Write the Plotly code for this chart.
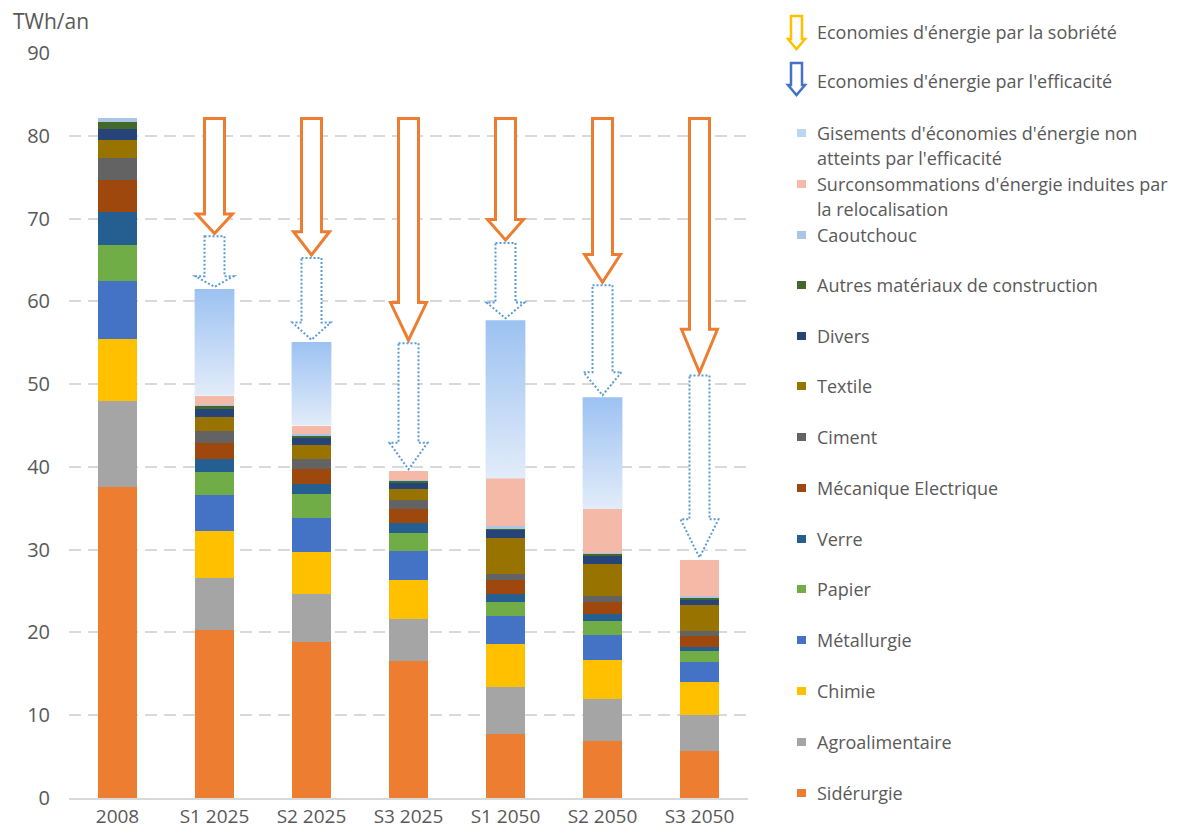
import plotly.graph_objects as go

# ---------------- data ----------------
categories = ["2008", "S1 2025", "S2 2025", "S3 2025", "S1 2050", "S2 2050", "S3 2050"]

siderurgie  = [37.6, 20.3, 18.8, 16.6, 7.7, 6.9, 5.7]
agro        = [10.3, 6.3, 5.8, 5.0, 5.7, 5.1, 4.3]
chimie      = [7.6, 5.7, 5.1, 4.7, 5.2, 4.7, 4.0]
metallurgie = [7.0, 4.3, 4.1, 3.5, 3.4, 3.0, 2.4]
papier      = [4.3, 2.8, 2.9, 2.2, 1.7, 1.7, 1.3]
verre       = [4.0, 1.5, 1.2, 1.2, 1.0, 0.8, 0.6]
mecanique   = [3.9, 2.0, 1.9, 1.7, 1.6, 1.5, 1.3]
ciment      = [2.6, 1.4, 1.2, 1.1, 0.8, 0.7, 0.6]
textile     = [2.2, 1.7, 1.6, 1.3, 4.3, 3.9, 3.1]
divers      = [1.3, 1.0, 1.0, 0.7, 1.0, 1.0, 0.7]
autres      = [0.9, 0.4, 0.2, 0.4, 0.2, 0.2, 0.2]
caoutchouc  = [0.4, 0.1, 0.2, 0.05, 0.2, 0.1, 0.2]
surconso    = [0.0, 1.1, 1.0, 1.0, 5.8, 5.3, 4.4]
gisements   = [0.0, 12.9, 10.1, 0.0, 19.1, 13.5, 0.0]

# level reached after sobriety savings (tip of the orange arrows)
sobriete_fin = [None, 68.2, 65.6, 55.3, 67.4, 62.3, 51.4]

series_names = ["Sidérurgie", "Agroalimentaire", "Chimie", "Métallurgie", "Papier", "Verre",
                "Mécanique Electrique", "Ciment", "Textile", "Divers",
                "Autres matériaux de construction", "Caoutchouc",
                "Surconsommations d'énergie induites par la relocalisation"]
series_values = [siderurgie, agro, chimie, metallurgie, papier, verre, mecanique, ciment,
                 textile, divers, autres, caoutchouc, surconso]
series_colors = ["#ED7D31", "#A5A5A5", "#FFC000", "#4472C4", "#70AD47", "#255E91",
                 "#9E480E", "#636363", "#997300", "#264478", "#43682B", "#ABC5E6", "#F4B9A7"]

gisements_name = "Gisements d'économies d'énergie non atteints par l'efficacité"

legend_lines = [
    ["Economies d'énergie par la sobriété"],
    ["Economies d'énergie par l'efficacité"],
    ["Gisements d'économies d'énergie non", "atteints par l'efficacité"],
    ["Surconsommations d'énergie induites par", "la relocalisation"],
    ["Caoutchouc"], ["Autres matériaux de construction"], ["Divers"], ["Textile"],
    ["Ciment"], ["Mécanique Electrique"], ["Verre"], ["Papier"], ["Métallurgie"],
    ["Chimie"], ["Agroalimentaire"], ["Sidérurgie"],
]

# ---------------- style ----------------
FONT = "Open Sans"
TXT = "#595959"
BAR_W = 0.41
OFF = 8                       # page body margin
W, H = 1181 - 2 * OFF, 838 - 2 * OFF
PL, PT, PW, PH = 69 - OFF, 53 - OFF, 679, 745   # figure coordinates of the plot area

def pxx(x):   # page pixel -> paper
    return (x - OFF - PL) / PW

def pxy(y):
    return (PT + PH - (y - OFF)) / PH

x = list(range(len(categories)))
fig = go.Figure()

for name, vals, col in zip(series_names, series_values, series_colors):
    fig.add_trace(go.Bar(x=x, y=vals, name=name, width=BAR_W,
                         marker=dict(color=col, line=dict(width=0)),
                         showlegend=False))

totals_wo_gis = [sum(v[i] for v in series_values) for i in x]
totals = [totals_wo_gis[i] + gisements[i] for i in x]

# gradient-filled "gisements" segments
for i in x:
    g = gisements[i]
    if g <= 0:
        continue
    b = totals_wo_gis[i]
    fig.add_trace(go.Scatter(
        x=[i - BAR_W / 2, i + BAR_W / 2, i + BAR_W / 2, i - BAR_W / 2, i - BAR_W / 2],
        y=[b, b, b + g, b + g, b],
        mode="lines", fill="toself", line=dict(width=0, color="rgba(0,0,0,0)"),
        fillgradient=dict(type="vertical", colorscale=[[0, "#E2ECF9"], [1, "#9CC2F2"]]),
        name=gisements_name, showlegend=False, hoverinfo="skip"))

UNIT_PX = PW / len(categories)

def arrow_path(xc, top, tip, head, sw_px, hw_px):
    sw = sw_px / UNIT_PX
    hw = hw_px / UNIT_PX
    hy = tip + head
    pts = [(xc - sw, top), (xc + sw, top), (xc + sw, hy), (xc + hw, hy), (xc, tip),
           (xc - hw, hy), (xc - sw, hy)]
    return "M " + " L ".join(f"{a},{b}" for a, b in pts) + " Z"

start = totals[0]
for i in x[1:]:
    tip = sobriete_fin[i]
    L = start - tip
    fig.add_shape(type="path", path=arrow_path(i, start, tip, 0.17 * L, 10, 18),
                  xref="x", yref="y", fillcolor="white",
                  line=dict(color="#ED7D31", width=3), layer="above")
    btop = tip - 0.35
    btip = totals[i] + 0.25
    Lb = btop - btip
    fig.add_shape(type="path", path=arrow_path(i, btop, btip, 0.21 * Lb, 10, 19),
                  xref="x", yref="y", fillcolor="white",
                  line=dict(color="#5B9BD5", width=2, dash="2px,2px"), layer="above")

# ---------------- manual legend ----------------
legend_y = [32, 81, 133, 184, 235, 285, 336, 386, 437, 488, 539, 589, 640, 691, 742, 793]
LINE_GAP = 25
marker_cols = ["#BCD5F4", "#F4B9A7", "#ABC5E6", "#43682B", "#264478", "#997300", "#636363",
               "#9E480E", "#255E91", "#70AD47", "#4472C4", "#FFC000", "#A5A5A5", "#ED7D31"]

annotations = []
for k, (lines, yc) in enumerate(zip(legend_lines, legend_y)):
    for j, t in enumerate(lines):
        annotations.append(dict(text=t, xref="paper", yref="paper", x=pxx(815), y=pxy(yc + j * LINE_GAP),
                                xanchor="left", yanchor="middle", showarrow=False,
                                font=dict(family=FONT, size=18, color=TXT)))
    if k >= 2:
        col = marker_cols[k - 2]
        fig.add_shape(type="rect", xref="paper", yref="paper",
                      x0=pxx(797), x1=pxx(806), y0=pxy(yc + 4), y1=pxy(yc - 4),
                      fillcolor=col, line=dict(width=0), layer="above")

def legend_arrow(ytop, yhead, ytip, color):
    pts = [(791, ytop), (802, ytop), (802, yhead), (805, yhead), (796.5, ytip), (788, yhead), (791, yhead)]
    path = "M " + " L ".join(f"{pxx(a)},{pxy(b)}" for a, b in pts) + " Z"
    fig.add_shape(type="path", path=path, xref="paper", yref="paper", fillcolor="white",
                  line=dict(color=color, width=2.5), layer="above")

legend_arrow(16, 39, 49, "#FFC000")
legend_arrow(63, 85, 95, "#4472C4")

annotations.append(dict(text="TWh/an", xref="paper", yref="paper", x=pxx(11), y=pxy(21),
                        xanchor="left", yanchor="middle", showarrow=False,
                        font=dict(family=FONT, size=21, color=TXT)))

fig.update_layout(
    width=W, height=H,
    margin=dict(l=PL, r=W - PL - PW, t=PT, b=H - PT - PH, pad=0, autoexpand=False),
    paper_bgcolor="white", plot_bgcolor="white",
    barmode="stack", showlegend=False,
    font=dict(family=FONT, size=20, color=TXT),
    annotations=annotations,
    xaxis=dict(tickmode="array", tickvals=x, ticktext=categories, range=[-0.5, 6.5],
               showgrid=False, zeroline=False, showline=True, linecolor="#D9D9D9", linewidth=1.5,
               ticks="", ticklabelstandoff=0, automargin=False,
               tickfont=dict(family=FONT, size=19, color=TXT)),
    yaxis=dict(range=[0, 90], dtick=10, tick0=0, showgrid=True, gridcolor="#D9D9D9",
               gridwidth=1.5, griddash="12px,7px", zeroline=False, showline=False,
               ticks="", ticklabelstandoff=18, automargin=False,
               tickfont=dict(family=FONT, size=20, color=TXT)),
)

fig.write_html("out.html")
